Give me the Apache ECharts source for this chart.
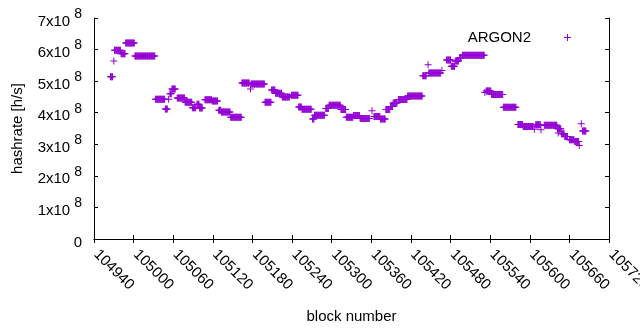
<!DOCTYPE html>
<html>
<head>
<meta charset="utf-8">
<script src="https://cdn.jsdelivr.net/npm/echarts@6/dist/echarts.min.js"></script>
<style>
html, body { margin: 0; padding: 0; background: #fff; }
#main { width: 640px; height: 330px; }
</style>
</head>
<body>
<div id="main"></div>
<script>
// runs of blocks sharing the same hashrate (value in units of 1e8 h/s)
var runStart = [104965, 104970, 104971, 104981, 104988, 105002, 105033, 105048, 105053, 105055,
	105058, 105066, 105078, 105089, 105096, 105100, 105108, 105119, 105129, 105133,
	105147, 105164, 105177, 105178, 105199, 105209, 105215, 105225, 105239, 105250,
	105255, 105271, 105274, 105291, 105296, 105314, 105322, 105333, 105343, 105361,
	105364, 105374, 105382, 105389, 105393, 105401, 105415, 105438, 105446, 105447,
	105467, 105474, 105481, 105487, 105494, 105498, 105532, 105534, 105542, 105560,
	105582, 105590, 105607, 105609, 105617, 105622, 105642, 105643, 105648, 105653,
	105660, 105668, 105675, 105678, 105680];
var runEnd = [104968, 104970, 104980, 104987, 105001, 105032, 105047, 105051, 105053, 105057,
	105063, 105077, 105088, 105094, 105099, 105104, 105118, 105127, 105132, 105146,
	105163, 105175, 105177, 105198, 105208, 105214, 105224, 105236, 105249, 105254,
	105269, 105273, 105289, 105295, 105313, 105321, 105332, 105342, 105357, 105361,
	105373, 105381, 105388, 105392, 105399, 105414, 105437, 105443, 105446, 105465,
	105467, 105480, 105486, 105492, 105496, 105531, 105532, 105541, 105559, 105579,
	105589, 105605, 105607, 105616, 105617, 105641, 105647, 105643, 105652, 105657,
	105667, 105674, 105675, 105678, 105685];
var runRate = [5.14, 5.64, 5.98, 5.87, 6.21, 5.80, 4.43, 4.12, 4.43, 4.60,
	4.75, 4.47, 4.33, 4.16, 4.27, 4.15, 4.41, 4.37, 4.08, 4.02,
	3.86, 4.94, 4.75, 4.91, 4.33, 4.72, 4.62, 4.50, 4.55, 4.18,
	4.11, 3.80, 3.92, 4.13, 4.24, 4.10, 3.86, 3.91, 3.82, 4.06,
	3.88, 3.80, 4.10, 4.20, 4.31, 4.42, 4.53, 5.17, 5.52, 5.26,
	5.34, 5.67, 5.47, 5.64, 5.74, 5.82, 4.64, 4.69, 4.58, 4.17,
	3.63, 3.56, 3.48, 3.62, 3.46, 3.60, 3.49, 3.36, 3.33, 3.25,
	3.14, 3.09, 2.96, 3.65, 3.42];

var yTickLabels = ['0', '1x10^8', '2x10^8', '3x10^8', '4x10^8', '5x10^8', '6x10^8', '7x10^8'];
var seriesName = 'ARGON2';

// one point per block
var points = [];
for (var i = 0; i < runStart.length; i++) {
	for (var b = runStart[i]; b <= runEnd[i]; b++) {
		points.push([b, runRate[i] * 1e8]);
	}
}

var font = 'Liberation Sans, Arial, sans-serif';
var plus = 'path://M3,0h1v3h3v1h-3v3h-1v-3h-3v-1h3z';
var purple = '#9400d3';

var chart = echarts.init(document.getElementById('main'), null, { renderer: 'canvas' });

var frameX = {
	type: 'value',
	min: 104940,
	max: 105720,
	interval: 60,
	axisLine: { show: true, lineStyle: { color: '#000', width: 1 } },
	axisTick: { show: true, inside: true, length: 4, lineStyle: { color: '#000' } },
	splitLine: { show: false }
};
var frameY = {
	type: 'value',
	min: 0,
	max: 7e8,
	interval: 1e8,
	axisLine: { show: true, lineStyle: { color: '#000', width: 1 } },
	axisTick: { show: true, inside: true, length: 4, lineStyle: { color: '#000' } },
	splitLine: { show: false }
};

var option = {
	backgroundColor: '#fff',
	animation: false,
	textStyle: { fontFamily: font },
	grid: { left: 94, right: 31, top: 18, bottom: 91, containLabel: false, outerBoundsMode: 'none' },
	legend: {
		data: [seriesName],
		right: 64,
		top: 25,
		align: 'right',
		icon: plus,
		itemWidth: 7,
		itemHeight: 7,
		textStyle: { fontSize: 15, color: '#000', fontFamily: font, padding: [0, 28, 0, 0] }
	},
	xAxis: [
		Object.assign({}, frameX, {
			position: 'bottom',
			name: 'block number',
			nameLocation: 'middle',
			nameGap: 70,
			nameTextStyle: { fontSize: 15, color: '#000', fontFamily: font },
			axisLabel: {
				rotate: -45,
				margin: 11,
				padding: [0, 0, 0, 3],
				fontSize: 15,
				color: '#000',
				fontFamily: font,
				showMaxLabel: true,
				formatter: function (v) { return String(v); }
			}
		}),
		Object.assign({}, frameX, { position: 'top', axisLabel: { show: false } })
	],
	yAxis: [
		Object.assign({}, frameY, {
			position: 'left',
			name: 'hashrate [h/s]',
			nameLocation: 'middle',
			nameGap: 69,
			nameTextStyle: { fontSize: 15, color: '#000', fontFamily: font },
			axisLabel: {
				margin: 12,
				color: '#000',
				fontFamily: font,
				formatter: function (v) {
					var s = yTickLabels[Math.round(v / 1e8)] || '';
					var p = s.split('^');
					return p.length > 1 ? '{b|' + p[0] + '}{s|' + p[1] + '}' : '{b|' + s + '}';
				},
				rich: {
					b: { fontSize: 15, fontFamily: font, color: '#000', lineHeight: 22, verticalAlign: 'bottom' },
					s: { fontSize: 14, fontFamily: font, color: '#000', lineHeight: 22, verticalAlign: 'top', padding: [0, 0, 0, 4] }
				}
			}
		}),
		Object.assign({}, frameY, { position: 'right', axisLabel: { show: false } })
	],
	series: [{
		name: seriesName,
		type: 'scatter',
		symbol: plus,
		symbolSize: 7,
		silent: true,
		itemStyle: { color: purple, opacity: 1 },
		data: points
	}]
};

chart.setOption(option);
</script>
</body>
</html>
